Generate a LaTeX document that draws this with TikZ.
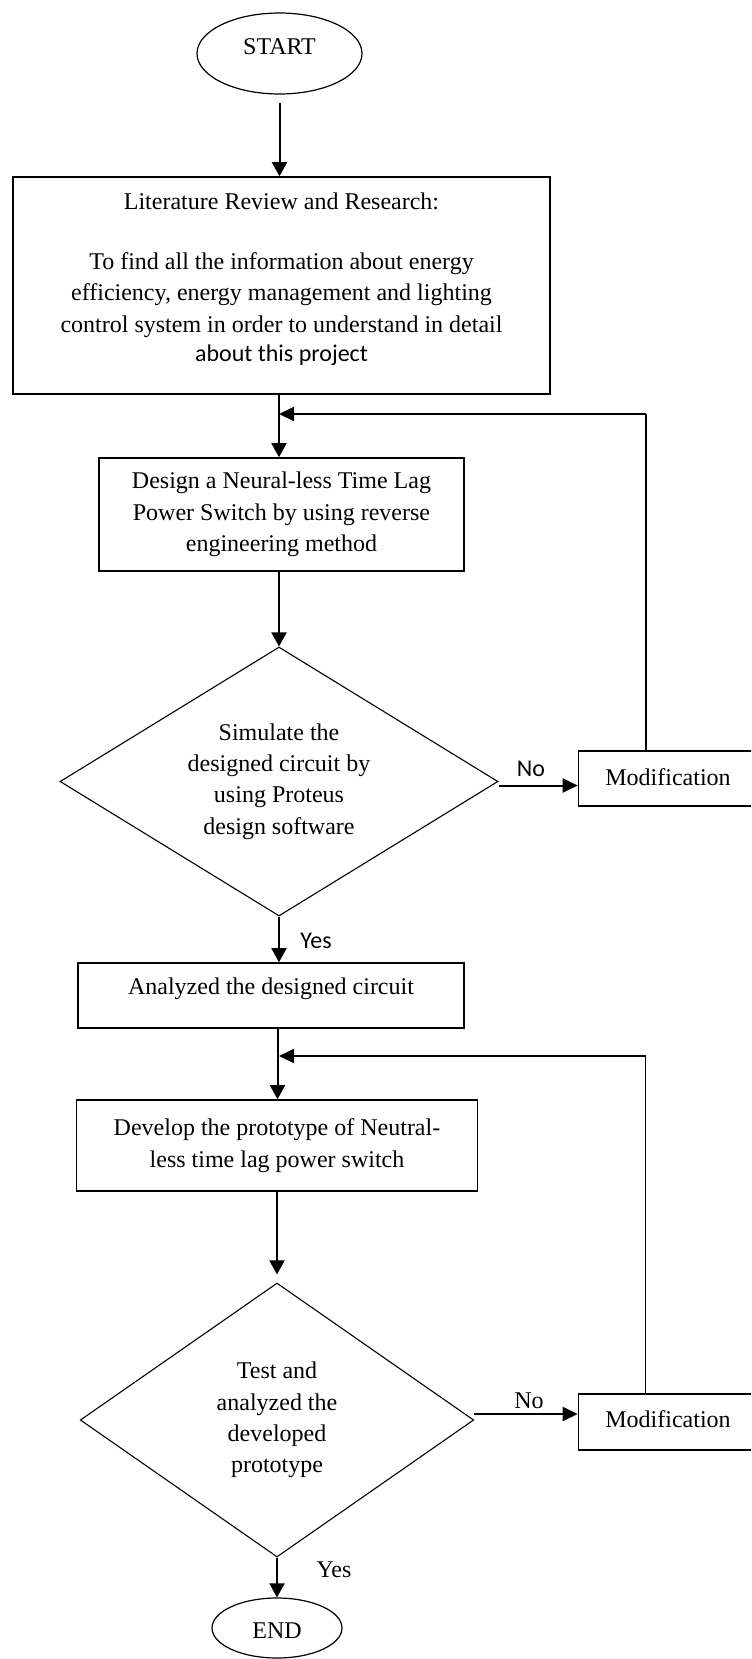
\documentclass[tikz,border=0pt]{standalone}
\usepackage{fontspec}
\setmainfont{Liberation Serif}
\newfontfamily\calib{Carlito}
\usetikzlibrary{shapes.geometric,arrows.meta}
\begin{document}
\begin{tikzpicture}[x=0.5pt,y=-0.5pt,
  every node/.style={font=\fontsize{12}{15.7}\selectfont},
  box/.style={draw, line width=0.8pt, rectangle, inner sep=0pt, align=center},
  dec/.style={draw, line width=0.55pt, diamond, inner sep=0pt, align=center},
  term/.style={draw, line width=0.6pt, ellipse, inner sep=0pt},
  arr/.style={line width=1pt, -{Triangle[length=7pt,width=7.5pt]}},
  harr/.style={line width=1pt, -{Triangle[length=7.5pt,width=7pt]}},
  loopv/.style={line width=0.6pt},
  lbl/.style={inner sep=0pt},
  sanslbl/.style={inner sep=0pt, font=\calib\fontsize{12}{14}\selectfont}]
\useasboundingbox (0,0) rectangle (751,1659);
\clip (0,0) rectangle (751,1659);

% shapes
\node[term, minimum width=82.5pt, minimum height=40.5pt, text height=8pt, text depth=6.6pt] (start) at (279.5,53.5) {START};

\node[box, minimum width=268.5pt, minimum height=108.5pt] (lit) at (281.5,285.5) {};
\node[lbl, align=center, anchor=north] (littxt) at (281.5,192.5)
  {Literature Review and Research:\\[14.3pt]
   To find all the information about energy\\
   efficiency, energy management and lighting\\
   control system in order to understand in detail\\[-1.2pt]
   {\calib about this project}};

\node[box, minimum width=182.5pt, minimum height=56.5pt] (design) at (281.5,514.5)
  {Design a Neural-less Time Lag\\Power Switch by using reverse\\engineering method};

\node[dec, minimum width=219pt, minimum height=134.5pt, aspect=1.628] (dia1) at (279,781.5)
  {Simulate the\\designed circuit by\\using Proteus\\design software};

\node[box, minimum width=89.5pt, minimum height=27.5pt, text depth=1pt] (mod1) at (668,778.5) {Modification};

\node[box, minimum width=193.25pt, minimum height=32.5pt, text depth=9pt] (ana) at (271,995.5) {Analyzed the designed circuit};

\node[box, minimum width=200.5pt, minimum height=45.5pt] (dev) at (277,1145.5)
  {Develop the prototype of Neutral-\\less time lag power switch};

\node[dec, minimum width=196.75pt, minimum height=137pt, aspect=1.436] (dia2) at (277,1420)
  {Test and\\analyzed the\\developed\\prototype};

\node[box, minimum width=89.5pt, minimum height=28pt, text depth=3pt] (mod2) at (668,1422) {Modification};

\node[term, minimum width=65pt, minimum height=30pt, text height=10.9pt] (end) at (277,1628) {END};

% labels
\node[sanslbl] (no1) at (531,769) {No};
\node[sanslbl] (yes1) at (316,941) {Yes};
\node[lbl] (no2) at (529,1401) {No};
\node[lbl] (yes2) at (334,1570) {Yes};

% connectors
\coordinate (colA) at (279,0);
\coordinate (colB) at (277.5,0);
\coordinate (l1) at (646,414);
\coordinate (l2) at (645.5,1056);

\draw[arr, shorten <=4pt] (start.south) -- (start.south |- lit.north);
\draw[arr] (colA |- lit.south) -- (colA |- design.north);
\draw[loopv] (mod1.north -| l1) -- (l1);
\draw[harr] (l1) -- (l1 -| colA);
\draw[arr] (colA |- design.south) -- (dia1.north);
\draw[harr] ([yshift=-2pt]dia1.east) -- ([yshift=-2pt]dia1.east -| mod1.west);
\draw[arr] (dia1.south) -- (dia1.south |- ana.north);
\draw[arr] (colB |- ana.south) -- (colB |- dev.north);
\draw[loopv] (mod2.north -| l2) -- (l2);
\draw[harr] (l2) -- (l2 -| colA);
\draw[arr, shorten >=4pt] (dia2.north |- dev.south) -- (dia2.north);
\draw[harr] ([yshift=3pt]dia2.east) -- ([yshift=3pt]dia2.east -| mod2.west);
\draw[arr] (dia2.south) -- (end.north);
\end{tikzpicture}
\end{document}
